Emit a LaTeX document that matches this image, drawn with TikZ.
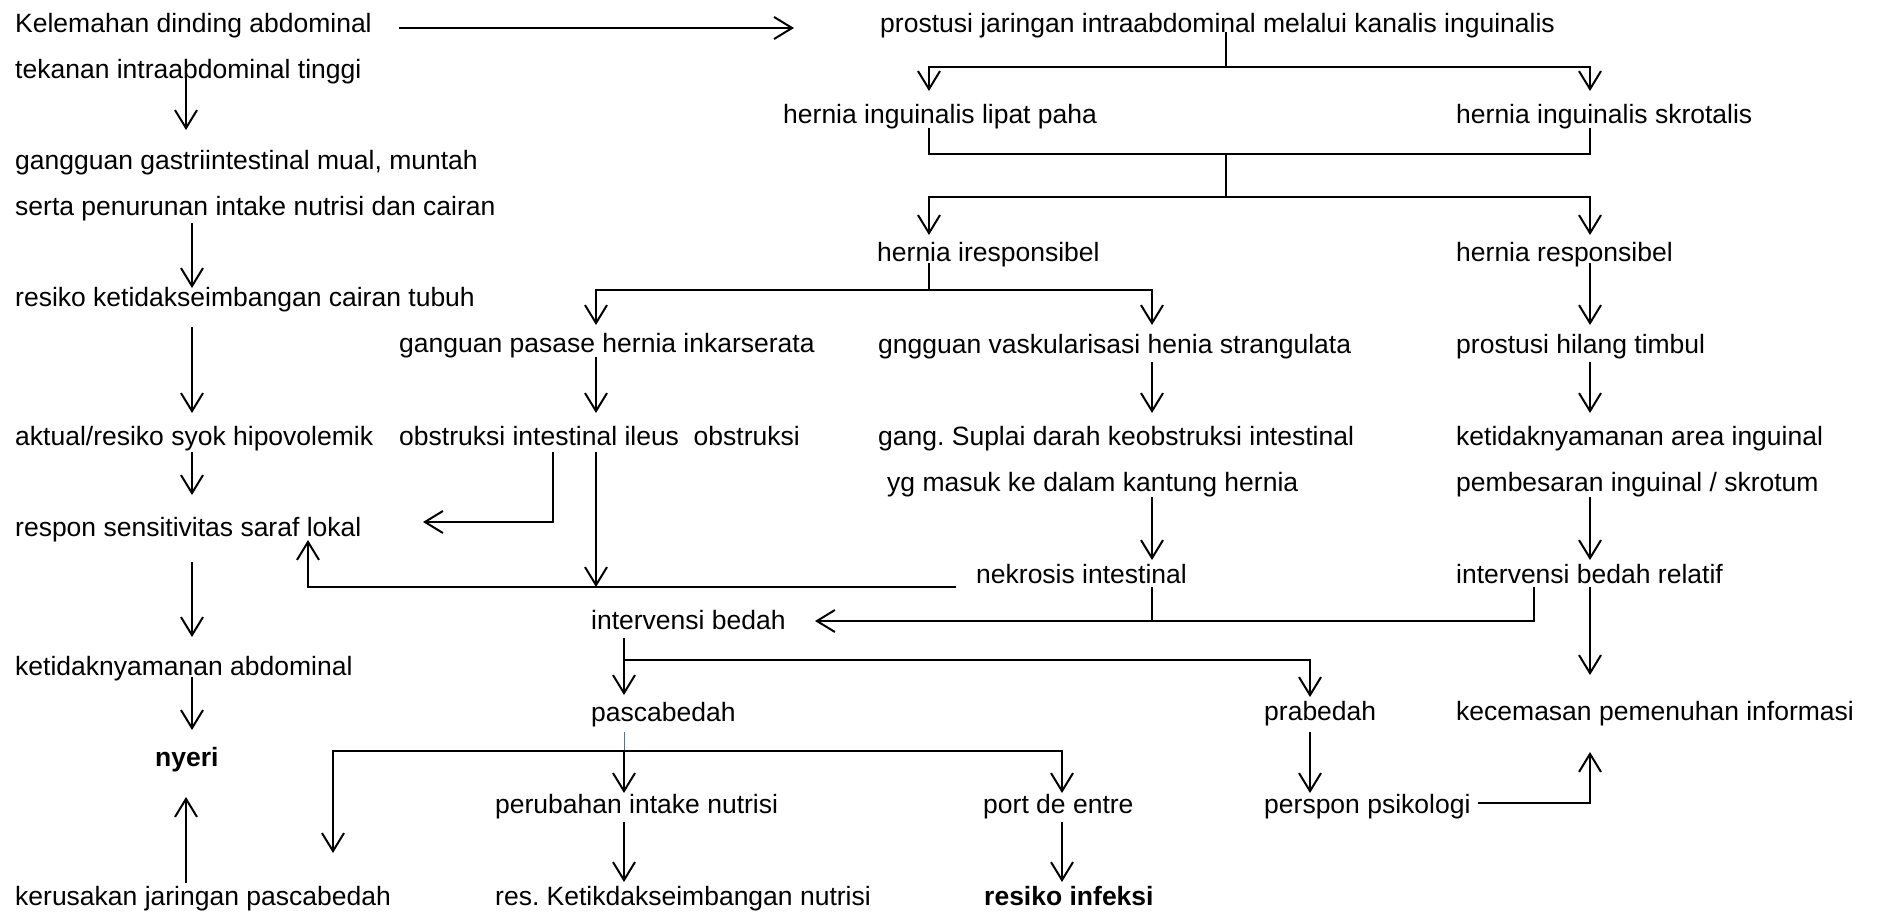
\documentclass[tikz,border=0pt]{standalone}
\usepackage{fontspec}
\setmainfont{Liberation Sans}
\usetikzlibrary{arrows.meta}
\frenchspacing
\newcommand\lblfont{\fontsize{26.5}{30}\selectfont}
\definecolor{thinblue}{RGB}{68,114,196}
\tikzset{
  lab/.style={anchor=base west, inner sep=0pt, font=\lblfont},
  conn/.style={line width=2pt, line join=miter},
  arr/.style={conn, -{Straight Barb[length=18pt,width=22pt,line width=2pt]}},
}
\begin{document}
\begin{tikzpicture}[x=1pt,y=-1pt]
\useasboundingbox (0,0) rectangle (1877,913);
\fill[white] (0,0) rectangle (1877,913);
% ---------- nodes ----------
\node[lab] (kel) at (15,32)  {Kelemahan dinding abdominal};
\node[lab] (tek) at (15,78)  {tekanan intraabdominal tinggi};
\node[lab] (gg1) at (15,169) {gangguan gastriintestinal mual, muntah};
\node[lab] (gg2) at (15,215) {serta penurunan intake nutrisi dan cairan};
\node[lab] (rkc) at (15,306) {resiko ketidakseimbangan cairan tubuh};
\node[lab] (akt) at (15,445) {aktual/resiko syok hipovolemik};
\node[lab] (res) at (15,536) {respon sensitivitas saraf lokal};
\node[lab] (ket) at (15,675) {ketidaknyamanan abdominal};
\node[lab,font=\lblfont\bfseries] (nye) at (155,766) {nyeri};
\node[lab] (ker) at (15,905) {kerusakan jaringan pascabedah};
\node[lab] (pro) at (880,32) {prostusi jaringan intraabdominal melalui kanalis inguinalis};
\node[lab] (hil) at (783,123) {hernia inguinalis lipat paha};
\node[lab] (his) at (1456,123) {hernia inguinalis skrotalis};
\node[lab] (hir) at (877,261) {hernia iresponsibel};
\node[lab] (hre) at (1456,261) {hernia responsibel};
\node[lab] (gpa) at (399,352) {ganguan pasase hernia inkarserata};
\node[lab] (gva) at (878,353) {gngguan vaskularisasi henia strangulata};
\node[lab] (pht) at (1456,353) {prostusi hilang timbul};
\node[lab] (obs) at (399,445) {obstruksi intestinal ileus\ \ obstruksi};
\node[lab] (gs1) at (878,445) {gang. Suplai darah keobstruksi intestinal};
\node[lab] (gs2) at (887,491) {yg masuk ke dalam kantung hernia};
\node[lab] (kai) at (1456,445) {ketidaknyamanan area inguinal};
\node[lab] (pem) at (1456,491) {pembesaran inguinal / skrotum};
\node[lab] (nek) at (976,583) {nekrosis intestinal};
\node[lab] (ibr) at (1456,583) {intervensi bedah relatif};
\node[lab] (ib)  at (591,629) {intervensi bedah};
\node[lab] (pas) at (591,721) {pascabedah};
\node[lab] (pra) at (1264,720) {prabedah};
\node[lab] (kec) at (1456,720) {kecemasan pemenuhan informasi};
\node[lab] (pin) at (495,813) {perubahan intake nutrisi};
\node[lab] (pde) at (983,813) {port de entre};
\node[lab] (psi) at (1264,813) {perspon psikologi};
\node[lab] (rkn) at (495,905) {res. Ketikdakseimbangan nutrisi};
\node[lab,font=\lblfont\bfseries] (rin) at (984,905) {resiko infeksi};
% ---------- connector points ----------
\coordinate (kelA) at (399,28);   \coordinate (proA) at (794,28);
\coordinate (tekA) at (186,74);   \coordinate (gg1A) at (186,130);
\coordinate (gg2A) at (192,223);  \coordinate (rkcA) at (192,288);
\coordinate (rkcB) at (192,327);  \coordinate (aktA) at (192,413);
\coordinate (aktB) at (192,452);  \coordinate (resA) at (192,495);
\coordinate (resB) at (192,562);  \coordinate (ketA) at (192,637);
\coordinate (ketB) at (192,677);  \coordinate (nyeA) at (192,730);
\coordinate (kerA) at (186,883);  \coordinate (nyeB) at (186,797);
\coordinate (proB) at (1226,32);  \coordinate (j1) at (1226,67);
\coordinate (j1l) at (929,67);    \coordinate (j1r) at (1590,67);
\coordinate (hilA) at (929,91);   \coordinate (hisA) at (1590,91);
\coordinate (hilB) at (929,128);  \coordinate (hisB) at (1590,128);
\coordinate (j2l) at (929,154);   \coordinate (j2r) at (1590,154);
\coordinate (j2) at (1226,154);   \coordinate (j3) at (1226,197);
\coordinate (j3l) at (929,197);   \coordinate (j3r) at (1590,197);
\coordinate (hirA) at (929,235);  \coordinate (hreA) at (1590,235);
\coordinate (hirB) at (929,263);  \coordinate (j4) at (929,290);
\coordinate (j4l) at (596,290);   \coordinate (j4r) at (1152,290);
\coordinate (gpaA) at (596,325);  \coordinate (gvaA) at (1152,325);
\coordinate (hreB) at (1590,263); \coordinate (phtA) at (1590,325);
\coordinate (gpaB) at (596,357);  \coordinate (obsA) at (596,413);
\coordinate (gvaB) at (1152,362); \coordinate (gs1A) at (1152,413);
\coordinate (phtB) at (1590,362); \coordinate (kaiA) at (1590,413);
\coordinate (gs2B) at (1152,497); \coordinate (nekA) at (1152,560);
\coordinate (pemB) at (1590,497); \coordinate (ibrA) at (1590,560);
\coordinate (obsB) at (553,452);  \coordinate (j5) at (553,522);
\coordinate (resC) at (423,522);
\coordinate (obsC) at (596,452);  \coordinate (j6) at (596,587);
\coordinate (nekB) at (956,587);  \coordinate (j7) at (308,587);
\coordinate (resD) at (308,540);
\coordinate (nekC) at (1152,587); \coordinate (j8) at (1152,621);
\coordinate (ibrB) at (1534,587); \coordinate (j9) at (1534,621);
\coordinate (ibA) at (815,621);
\coordinate (ibrC) at (1590,587); \coordinate (kecA) at (1590,675);
\coordinate (ibB) at (624,638);   \coordinate (pasA) at (624,695);
\coordinate (j10) at (624,660);   \coordinate (j10r) at (1310,660);
\coordinate (praA) at (1310,697);
\coordinate (pasB) at (624,732);  \coordinate (j11) at (624,751);
\coordinate (pinA) at (624,793);
\coordinate (j11l) at (333,751);  \coordinate (kerB) at (333,853);
\coordinate (j11r) at (1062,751); \coordinate (pdeA) at (1062,793);
\coordinate (pinB) at (624,822);  \coordinate (rknA) at (624,882);
\coordinate (pdeB) at (1062,822); \coordinate (rinA) at (1062,882);
\coordinate (praB) at (1310,732); \coordinate (psiA) at (1310,793);
\coordinate (psiB) at (1478,803); \coordinate (j12) at (1590,803);
\coordinate (kecB) at (1590,752);
% ---------- connectors ----------
\draw[arr] (kelA) -- (proA);
\draw[arr] (tekA) -- (gg1A);
\draw[arr] (gg2A) -- (rkcA);
\draw[arr] (rkcB) -- (aktA);
\draw[arr] (aktB) -- (resA);
\draw[arr] (resB) -- (ketA);
\draw[arr] (ketB) -- (nyeA);
\draw[arr] (kerA) -- (nyeB);
\draw[conn] (proB) -- (j1);
\draw[arr] (j1) -- (j1l) -- (hilA);
\draw[arr] (j1) -- (j1r) -- (hisA);
\draw[conn] (hilB) -- (j2l) -- (j2r) -- (hisB);
\draw[conn] (j2) -- (j3);
\draw[arr] (j3) -- (j3l) -- (hirA);
\draw[arr] (j3) -- (j3r) -- (hreA);
\draw[conn] (hirB) -- (j4);
\draw[arr] (j4) -- (j4l) -- (gpaA);
\draw[arr] (j4) -- (j4r) -- (gvaA);
\draw[arr] (hreB) -- (phtA);
\draw[arr] (gpaB) -- (obsA);
\draw[arr] (gvaB) -- (gs1A);
\draw[arr] (phtB) -- (kaiA);
\draw[arr] (gs2B) -- (nekA);
\draw[arr] (pemB) -- (ibrA);
\draw[arr] (obsB) -- (j5) -- (resC);
\draw[arr] (obsC) -- (j6);
\draw[arr] (nekB) -- (j7) -- (resD);
\draw[conn] (nekC) -- (j8);
\draw[arr] (ibrB) -- (j9) -- (ibA);
\draw[arr] (ibrC) -- (kecA);
\draw[arr] (ibB) -- (pasA);
\draw[arr] (j10) -- (j10r) -- (praA);
\draw[thinblue, line width=1pt] (pasB) -- (j11);
\draw[arr] (j11) -- (pinA);
\draw[arr] (j11) -- (j11l) -- (kerB);
\draw[arr] (j11) -- (j11r) -- (pdeA);
\draw[arr] (pinB) -- (rknA);
\draw[arr] (pdeB) -- (rinA);
\draw[arr] (praB) -- (psiA);
\draw[arr] (psiB) -- (j12) -- (kecB);
\end{tikzpicture}
\end{document}
